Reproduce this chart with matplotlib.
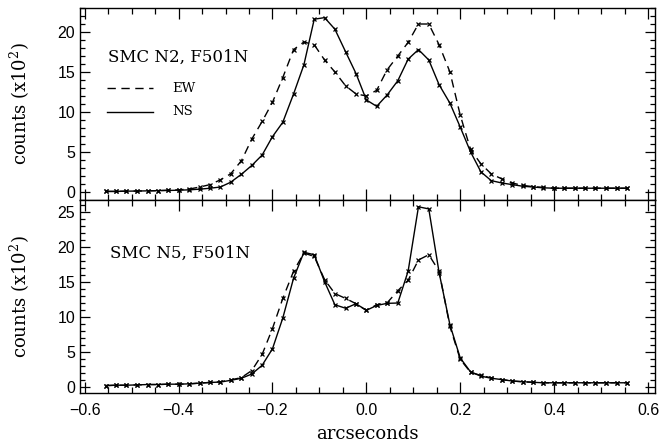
import matplotlib
matplotlib.use("Agg")
import matplotlib.pyplot as plt
from matplotlib.ticker import MultipleLocator

plt.rcParams["mathtext.fontset"] = "dejavuserif"

# sample positions (arcsec), step ~0.0222"
offsets = [-0.555, -0.533, -0.511, -0.488, -0.466, -0.444, -0.422, -0.400, -0.377,
           -0.355, -0.333, -0.311, -0.289, -0.266, -0.244, -0.222, -0.200, -0.178,
           -0.155, -0.133, -0.111, -0.089, -0.067, -0.044, -0.022, 0.000, 0.022,
           0.044, 0.067, 0.089, 0.111, 0.133, 0.155, 0.178, 0.200, 0.222, 0.244,
           0.266, 0.289, 0.311, 0.333, 0.355, 0.377, 0.400, 0.422, 0.444, 0.466,
           0.488, 0.511, 0.533, 0.555]

# SMC N2 cuts (counts / 100)
n2_ns = [0.05, 0.05, 0.08, 0.10, 0.12, 0.15, 0.17, 0.20, 0.25, 0.33, 0.45, 0.6,
         1.2, 2.2, 3.3, 4.6, 6.9, 8.7, 12.25, 15.9, 21.6, 21.8, 20.35, 17.5, 14.8,
         11.5, 10.7, 12.1, 13.9, 16.6, 17.8, 16.5, 13.4, 11.1, 8.1, 5.0, 2.5, 1.4,
         1.1, 0.9, 0.7, 0.6, 0.5, 0.45, 0.45, 0.45, 0.45, 0.45, 0.45, 0.45, 0.45]
n2_ew = [0.05, 0.05, 0.08, 0.10, 0.12, 0.15, 0.2, 0.25, 0.35, 0.6, 0.9, 1.5,
         2.25, 3.9, 6.6, 8.8, 11.2, 14.3, 17.8, 18.75, 18.4, 16.5, 15.0, 13.25, 12.25,
         12.0, 12.7, 15.25, 17.0, 18.7, 21.0, 21.0, 18.4, 15.0, 9.6, 5.3, 3.5, 2.25,
         1.6, 1.1, 0.8, 0.65, 0.55, 0.45, 0.45, 0.45, 0.45, 0.45, 0.45, 0.45, 0.45]

# SMC N5 cuts (counts / 100)
n5_ns = [0.15, 0.2, 0.2, 0.25, 0.3, 0.3, 0.35, 0.35, 0.4, 0.5, 0.6, 0.65,
         0.9, 1.2, 1.8, 3.05, 5.4, 9.8, 15.5, 19.2, 18.85, 15.0, 11.7, 11.2, 11.85,
         10.9, 11.6, 11.9, 11.95, 16.5, 25.7, 25.4, 16.3, 8.85, 4.1, 2.1, 1.5, 1.2,
         1.0, 0.8, 0.7, 0.62, 0.55, 0.55, 0.55, 0.55, 0.55, 0.55, 0.55, 0.55, 0.55]
n5_ew = [0.15, 0.2, 0.2, 0.25, 0.3, 0.3, 0.35, 0.35, 0.4, 0.5, 0.6, 0.7,
         0.95, 1.3, 2.3, 4.6, 8.3, 12.6, 16.5, 19.1, 18.6, 15.3, 13.3, 12.6, 11.85,
         10.9, 11.7, 11.95, 13.7, 15.2, 18.1, 18.85, 16.5, 8.6, 3.9, 2.05, 1.6, 1.25,
         1.0, 0.8, 0.7, 0.62, 0.55, 0.55, 0.55, 0.55, 0.55, 0.55, 0.55, 0.55, 0.55]

serif = "DejaVu Serif"
sans = "Liberation Sans"

fig = plt.figure(figsize=(6.61, 4.46), dpi=100)
ax1 = fig.add_axes([0.121, 0.552, 0.870, 0.430])
ax2 = fig.add_axes([0.121, 0.119, 0.870, 0.433])


def style(ax, ylim, labels):
    ax.set_xlim(-0.61, 0.615)
    ax.set_ylim(*ylim)
    ax.xaxis.set_major_locator(MultipleLocator(0.2))
    ax.xaxis.set_minor_locator(MultipleLocator(0.05))
    ax.yaxis.set_major_locator(MultipleLocator(5))
    ax.yaxis.set_minor_locator(MultipleLocator(1))
    ax.tick_params(which="both", direction="in", top=True, right=True,
                   width=0.9, labelsize=11.5)
    ax.tick_params(which="major", length=8)
    ax.tick_params(which="minor", length=4)
    ax.tick_params(axis="y", which="major", length=7)
    ax.tick_params(axis="y", which="minor", length=3.5)
    ax.tick_params(axis="x", which="major", pad=7)
    if not labels:
        ax.tick_params(labelbottom=False)
    for lab in ax.get_xticklabels() + ax.get_yticklabels():
        lab.set_family(sans)
    for sp in ax.spines.values():
        sp.set_linewidth(1.0)
    ax.set_ylabel("counts (x10$^{2}$)", family=serif, fontsize=13)
    ax.yaxis.set_label_coords(-0.083, 0.5)


mk = dict(color="black", marker="x", markersize=3.5, markeredgewidth=0.9,
          linewidth=1.0)

ax1.plot(offsets, n2_ew, linestyle=(0, (6, 4)), **mk)
ax1.plot(offsets, n2_ns, linestyle="-", **mk)
style(ax1, (-1, 23), False)
ax1.text(0.048, 0.745, "SMC N2, F501N", transform=ax1.transAxes,
         family=serif, fontsize=12, va="center")
ax1.plot([0.047, 0.127], [0.583, 0.583], transform=ax1.transAxes,
         color="black", linewidth=1.0, linestyle=(0, (6, 4)))
ax1.plot([0.047, 0.127], [0.458, 0.458], transform=ax1.transAxes,
         color="black", linewidth=1.0)
ax1.text(0.16, 0.583, "EW", transform=ax1.transAxes, family=serif,
         fontsize=9.5, va="center")
ax1.text(0.16, 0.458, "NS", transform=ax1.transAxes, family=serif,
         fontsize=9.5, va="center")

ax2.plot(offsets, n5_ew, linestyle=(0, (6, 4)), **mk)
ax2.plot(offsets, n5_ns, linestyle="-", **mk)
style(ax2, (-0.9, 26.7), True)
ax2.text(0.052, 0.725, "SMC N5, F501N", transform=ax2.transAxes,
         family=serif, fontsize=12, va="center")
ax2.set_xlabel("arcseconds", family=serif, fontsize=13, labelpad=5)

fig.savefig("out.png", dpi=100)
